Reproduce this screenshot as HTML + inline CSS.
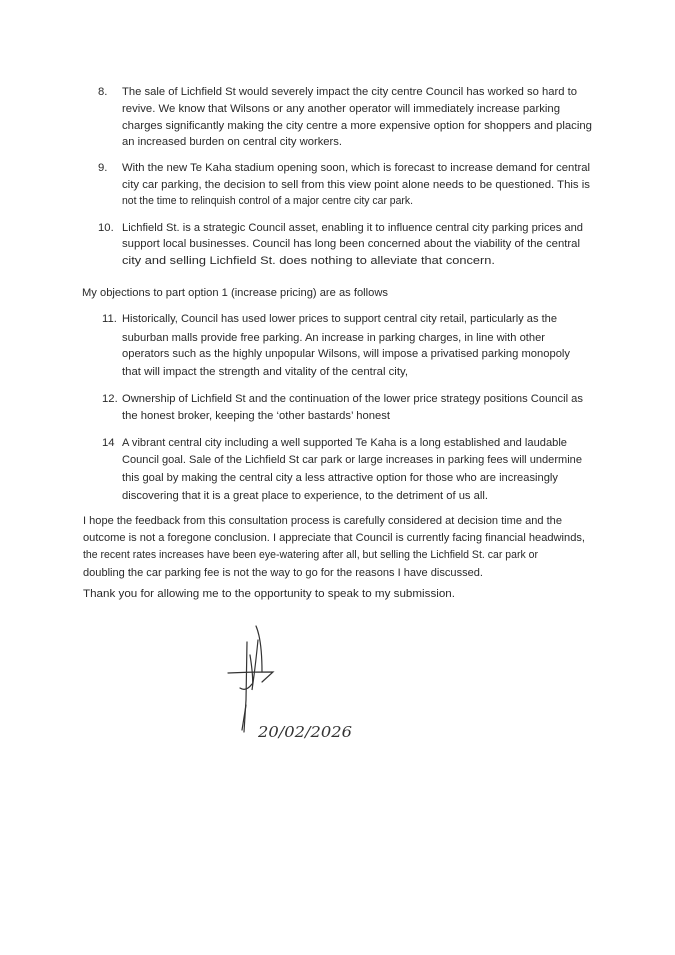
<!DOCTYPE html>
<html><head><meta charset="utf-8"><style>
html,body{margin:0;padding:0;background:#fff;width:675px;height:955px;overflow:hidden}
svg{display:block}
text{font-family:"Liberation Sans",sans-serif;font-size:11.3px;fill:#2a2a2a}
</style></head><body>
<svg width="675" height="955" viewBox="0 0 675 955" xmlns="http://www.w3.org/2000/svg">
<g>
<text x="98" y="95">8.</text>
<text x="122" y="95" textLength="455" lengthAdjust="spacingAndGlyphs">The sale of Lichfield St would severely impact the city centre Council has worked so hard to</text>
<text x="122" y="112" textLength="438" lengthAdjust="spacingAndGlyphs">revive. We know that Wilsons or any another operator will immediately increase parking</text>
<text x="122" y="129" textLength="470" lengthAdjust="spacingAndGlyphs">charges significantly making the city centre a more expensive option for shoppers and placing</text>
<text x="122" y="145" textLength="220" lengthAdjust="spacingAndGlyphs">an increased burden on central city workers.</text>

<text x="98" y="171">9.</text>
<text x="122" y="171" textLength="468" lengthAdjust="spacingAndGlyphs">With the new Te Kaha stadium opening soon, which is forecast to increase demand for central</text>
<text x="122" y="188" textLength="468" lengthAdjust="spacingAndGlyphs">city car parking, the decision to sell from this view point alone needs to be questioned. This is</text>
<text x="122" y="204" textLength="291" lengthAdjust="spacingAndGlyphs">not the time to relinquish control of a major centre city car park.</text>

<text x="98" y="231">10.</text>
<text x="122" y="231" textLength="461" lengthAdjust="spacingAndGlyphs">Lichfield St. is a strategic Council asset, enabling it to influence central city parking prices and</text>
<text x="122" y="247" textLength="458" lengthAdjust="spacingAndGlyphs">support local businesses. Council has long been concerned about the viability of the central</text>
<text x="122" y="264" textLength="373" lengthAdjust="spacingAndGlyphs">city and selling Lichfield St. does nothing to alleviate that concern.</text>

<text x="82" y="296" textLength="306" lengthAdjust="spacingAndGlyphs">My objections to part option 1 (increase pricing) are as follows</text>

<text x="102" y="322">11.</text>
<text x="122" y="322" textLength="435" lengthAdjust="spacingAndGlyphs">Historically, Council has used lower prices to support central city retail, particularly as the</text>
<text x="122" y="341" textLength="423" lengthAdjust="spacingAndGlyphs">suburban malls provide free parking. An increase in parking charges, in line with other</text>
<text x="122" y="357" textLength="448" lengthAdjust="spacingAndGlyphs">operators such as the highly unpopular Wilsons, will impose a privatised parking monopoly</text>
<text x="122" y="375" textLength="286" lengthAdjust="spacingAndGlyphs">that will impact the strength and vitality of the central city,</text>

<text x="102" y="402">12.</text>
<text x="122" y="402" textLength="461" lengthAdjust="spacingAndGlyphs">Ownership of Lichfield St and the continuation of the lower price strategy positions Council as</text>
<text x="122" y="419" textLength="268" lengthAdjust="spacingAndGlyphs">the honest broker, keeping the ‘other bastards’ honest</text>

<text x="102" y="446">14</text>
<text x="122" y="446" textLength="445" lengthAdjust="spacingAndGlyphs">A vibrant central city including a well supported Te Kaha is a long established and laudable</text>
<text x="122" y="463" textLength="460" lengthAdjust="spacingAndGlyphs">Council goal. Sale of the Lichfield St car park or large increases in parking fees will undermine</text>
<text x="122" y="481" textLength="436" lengthAdjust="spacingAndGlyphs">this goal by making the central city a less attractive option for those who are increasingly</text>
<text x="122" y="499" textLength="366" lengthAdjust="spacingAndGlyphs">discovering that it is a great place to experience, to the detriment of us all.</text>

<text x="83" y="524" textLength="479" lengthAdjust="spacingAndGlyphs">I hope the feedback from this consultation process is carefully considered at decision time and the</text>
<text x="83" y="541" textLength="502" lengthAdjust="spacingAndGlyphs">outcome is not a foregone conclusion. I appreciate that Council is currently facing financial headwinds,</text>
<text x="83" y="558" textLength="455" lengthAdjust="spacingAndGlyphs">the recent rates increases have been eye-watering after all, but selling the Lichfield St. car park or</text>
<text x="83" y="576" textLength="400" lengthAdjust="spacingAndGlyphs">doubling the car parking fee is not the way to go for the reasons I have discussed.</text>

<text x="83" y="597" textLength="372" lengthAdjust="spacingAndGlyphs">Thank you for allowing me to the opportunity to speak to my submission.</text>
</g>
<g fill="none" stroke="#333" stroke-width="1.2" stroke-linecap="round">
<path d="M247 642 L246 700 L244 732"/>
<path d="M250 655 Q254 680 252 690 Q255 670 258 640"/>
<path d="M256 626 Q262 640 262 672"/>
<path d="M228 673 Q248 672 273 672 L262 682"/>
<path d="M240 688 Q246 692 252 684"/>
<path d="M246 705 L242 730"/>
</g>
<text x="258" y="737" style="font-family:'DejaVu Serif',serif;font-style:italic;font-size:15px;fill:#333" textLength="94" lengthAdjust="spacingAndGlyphs">20/02/2026</text>
</svg>
</body></html>
